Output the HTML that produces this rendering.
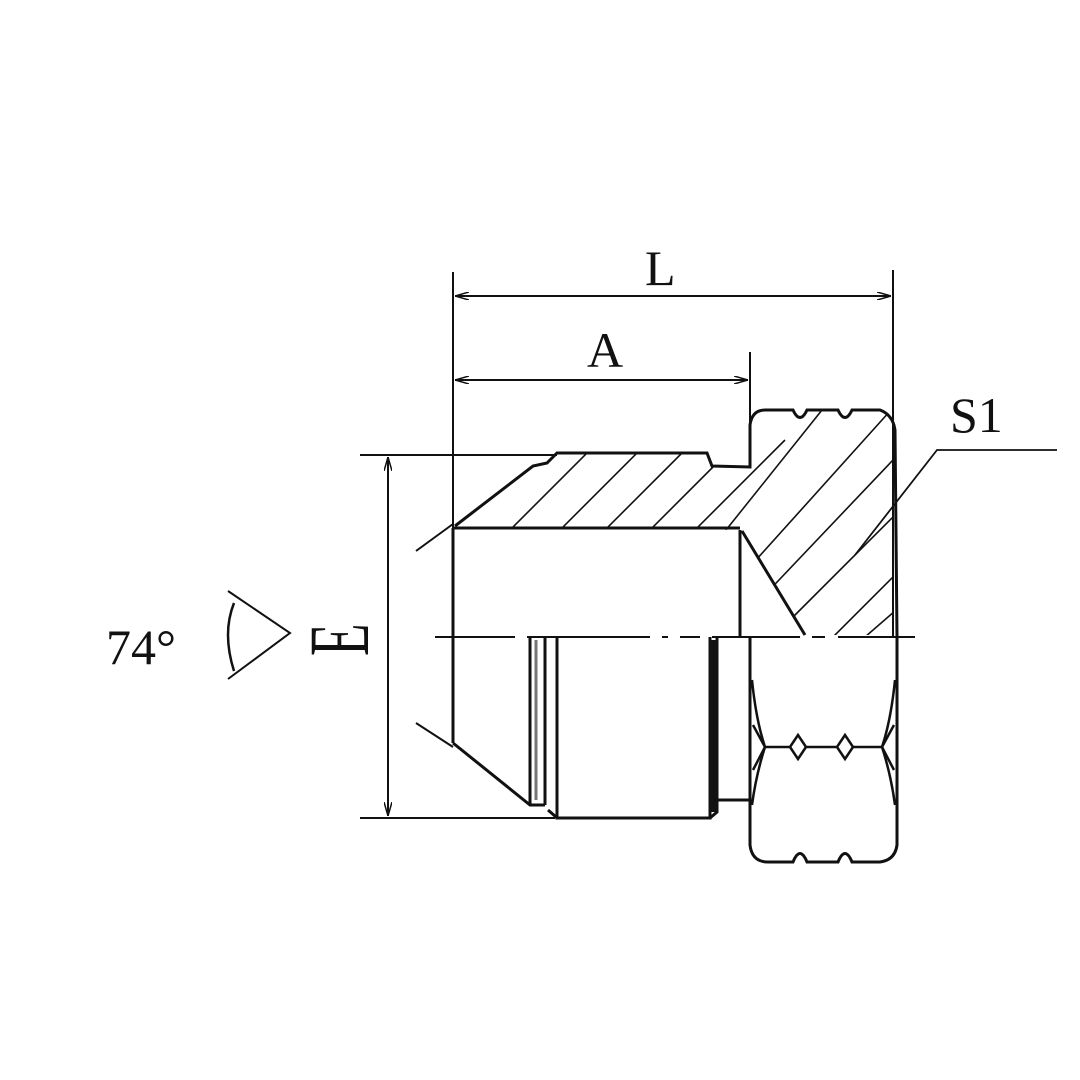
<!DOCTYPE html>
<html><head><meta charset="utf-8"><style>
html,body{margin:0;padding:0;background:#fff}
svg{display:block}
text{font-family:"Liberation Serif",serif;fill:#111}
</style></head><body>
<svg width="1080" height="1080" viewBox="0 0 1080 1080" xmlns="http://www.w3.org/2000/svg">
<defs>
<clipPath id="h1"><path d="M455 526 L533 466 L547 463 L557 453 L707 453 L712 466 L750 467 L750 420 L760 410 L885 410 L893 420 L893 635 L805 635 L740 530 Z"/></clipPath>
<marker id="ar" markerWidth="14" markerHeight="8" refX="14" refY="4" orient="auto" markerUnits="userSpaceOnUse"><path d="M0 0 L14 4 L0 8" fill="none" stroke="#111" stroke-width="1.5"/></marker>
</defs>
<g stroke="#111" fill="none" stroke-width="2">
<line x1="453" y1="272" x2="453" y2="528"/>
<line x1="893" y1="270" x2="893" y2="637"/>
<line x1="750" y1="352" x2="750" y2="467"/>
<line x1="360" y1="455" x2="557" y2="455"/>
<line x1="360" y1="818" x2="555" y2="818"/>
<line x1="891" y1="296" x2="455" y2="296" marker-end="url(#ar)"/>
<line x1="455" y1="296" x2="891" y2="296" marker-end="url(#ar)"/>
<line x1="455" y1="380" x2="748" y2="380" marker-end="url(#ar)"/>
<line x1="748" y1="380" x2="455" y2="380" marker-end="url(#ar)"/>
<line x1="388" y1="457" x2="388" y2="816" marker-end="url(#ar)"/>
<line x1="388" y1="816" x2="388" y2="457" marker-end="url(#ar)"/>
<g clip-path="url(#h1)" stroke-width="1.6">
<line x1="440" y1="600" x2="600" y2="440"/>
<line x1="490" y1="600" x2="650" y2="440"/>
<line x1="535" y1="600" x2="695" y2="440"/>
<line x1="580" y1="600" x2="740" y2="440"/>
<line x1="625" y1="600" x2="785" y2="440"/>
<line x1="670" y1="600" x2="830" y2="400"/>
<line x1="720" y1="600" x2="900" y2="400"/>
<line x1="760" y1="600" x2="950" y2="400"/>
<line x1="790" y1="620" x2="990" y2="420"/>
<line x1="820" y1="650" x2="1000" y2="470"/>
<line x1="850" y1="650" x2="1000" y2="520"/>
</g>
<path stroke-width="3" d="M455 526 L533 466 L547 463 L557 453 L707 453 L712 466 L750 467 L750 425 Q752 410 765 410 L793 410 Q800 425 807 410 L838 410 Q845 425 852 410 L880 410 Q893 415 895 430 L897 637"/>
<line stroke-width="3" x1="453" y1="528" x2="740" y2="528"/>
<path stroke-width="3" d="M740 530 L740 637 M742 531 L805 635"/>
<line x1="453" y1="528" x2="453" y2="743" stroke-width="3"/>
<path d="M416 551 L453 524 M416 723 L453 747"/>
<path stroke-width="3" d="M453 743 L530 805 L545 805 M530 637 L530 805 M545 637 L545 805 M557 637 L557 818 L710 818 L710 637 M557 818 Q555 816 548 810 M717 637 L717 812 L710 818 M717 800 L750 800 M750 637 L750 800"/>
<line x1="536" y1="640" x2="536" y2="800" stroke="#777" stroke-width="3"/>
<line x1="713" y1="640" x2="713" y2="812" stroke-width="5"/>
<path stroke-width="3" d="M750 640 L750 845 Q752 862 768 862 L793 862 Q800 845 807 862 L838 862 Q845 845 852 862 L880 862 Q895 860 897 845 L897 637"/>
<path stroke-width="2.5" d="M752 680 Q756 720 765 747 Q756 775 752 805 M895 680 Q891 720 882 747 Q891 775 895 805"/>
<path stroke-width="2.5" d="M765 747 L790 747 L798 735 L806 747 L837 747 L845 735 L853 747 L882 747 M790 747 L798 759 L806 747 M837 747 L845 759 L853 747 M753 725 L765 747 L753 770 M894 725 L882 747 L894 770"/>
<path stroke-width="2" d="M435 637 L515 637 M527 637 L650 637 M662 637 L668 637 M680 637 L700 637 M712 637 L800 637 M812 637 L825 637 M838 637 L915 637"/>
<path stroke-width="1.8" d="M1057 450 L937 450 L855 555"/>
<path stroke-width="2" d="M228 591 L290 633 L228 679"/>
<path stroke-width="2.5" d="M234 603 Q222 633 234 671"/>
</g>
<text x="645" y="285" font-size="50">L</text>
<text x="587" y="367" font-size="50">A</text>
<text x="950" y="432" font-size="50">S1</text>
<text x="106" y="664" font-size="50">74°</text>
<text x="0" y="0" font-size="86" transform="translate(368,656) rotate(-90) scale(0.62,1)">E</text>
</svg>
</body></html>
